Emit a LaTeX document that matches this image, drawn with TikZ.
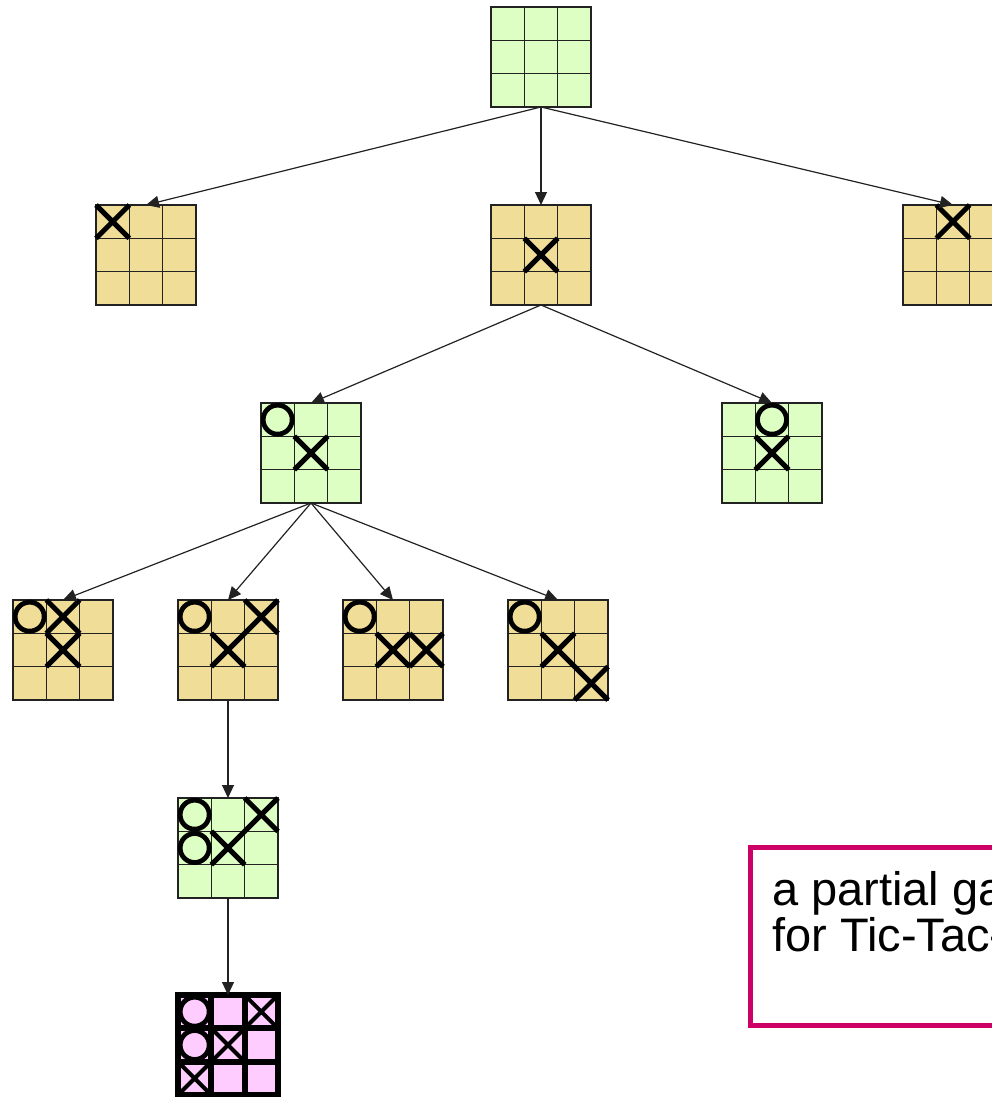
\documentclass[tikz,border=0pt]{standalone}
\usepackage{fontspec}
\setmainfont{Liberation Sans}
\usetikzlibrary{arrows.meta,calc}
\definecolor{boardgreen}{RGB}{222,255,196}
\definecolor{boardtan}{RGB}{240,222,152}
\definecolor{boardpink}{RGB}{255,204,255}
\definecolor{notemag}{RGB}{204,0,102}
\definecolor{gridgray}{RGB}{34,34,34}
\tikzset{
  board/.style={draw=gridgray, line width=1.5pt, minimum size=100pt, inner sep=0pt, outer sep=0pt, anchor=north west},
  gridline/.style={draw=gridgray, line width=1.5pt},
  xmk/.style={draw=black, line width=5pt},
  omk/.style={draw=black, line width=4.8pt},
  treeedge/.style={draw=gridgray, line width=1.2pt, -{Triangle[length=13pt,width=12pt]}},
  notebox/.style={draw=notemag, line width=5pt, minimum width=460pt, minimum height=178pt, inner sep=0pt, anchor=north west},
  notetext/.style={inner sep=0pt, anchor=north west, align=left, font=\fontsize{47pt}{46pt}\selectfont}
}
% name, x, y, fill, line width, line colour
\newcommand\ttboard[6]{%
  \node[board, fill=#4, line width=#5, draw=#6] (#1) at (#2,#3) {};
  \draw[gridline, line width=#5, draw=#6] (#2+33.333,#3) -- ++(0,100) (#2+66.667,#3) -- ++(0,100)
     (#2,#3+33.333) -- ++(100,0) (#2,#3+66.667) -- ++(100,0);
}
\newcommand\xm[3]{%
  \draw[xmk] ($(#1.north west)+(#2*33.333,#3*33.333)$) -- ++(33.333,33.333) ++(-33.333,0) -- ++(33.333,-33.333);
}
\newcommand\xmthin[3]{%
  \draw[xmk, line width=4pt] ($(#1.north west)+(#2*33.333,#3*33.333)$) -- ++(33.333,33.333) ++(-33.333,0) -- ++(33.333,-33.333);
}
\newcommand\om[3]{%
  \draw[omk] ($(#1.north west)+(#2*33.333+16.667,#3*33.333+16.667)$) circle[radius=14.5pt];
}
\begin{document}
\begin{tikzpicture}[x=1pt,y=-1pt]
\useasboundingbox (0,0) rectangle (991,1097);
% level 0
\ttboard{root}{491}{7}{boardgreen}{1.5pt}{gridgray}
% level 1
\ttboard{a}{96}{205}{boardtan}{1.5pt}{gridgray}
\ttboard{b}{491}{205}{boardtan}{1.5pt}{gridgray}
\ttboard{c}{903}{205}{boardtan}{1.5pt}{gridgray}
% level 2
\ttboard{d}{261}{403}{boardgreen}{1.5pt}{gridgray}
\ttboard{e}{722}{403}{boardgreen}{1.5pt}{gridgray}
% level 3
\ttboard{f}{13}{600}{boardtan}{1.5pt}{gridgray}
\ttboard{g}{178}{600}{boardtan}{1.5pt}{gridgray}
\ttboard{h}{343}{600}{boardtan}{1.5pt}{gridgray}
\ttboard{i}{508}{600}{boardtan}{1.5pt}{gridgray}
% level 4
\ttboard{j}{178}{798}{boardgreen}{1.5pt}{gridgray}
% level 5
\ttboard{k}{178}{995}{boardpink}{6pt}{black}
% marks
\xm{a}{0}{0}
\xm{b}{1}{1}
\xm{c}{1}{0}
\om{d}{0}{0} \xm{d}{1}{1}
\om{e}{1}{0} \xm{e}{1}{1}
\om{f}{0}{0} \xm{f}{1}{0} \xm{f}{1}{1}
\om{g}{0}{0} \xm{g}{2}{0} \xm{g}{1}{1}
\om{h}{0}{0} \xm{h}{1}{1} \xm{h}{2}{1}
\om{i}{0}{0} \xm{i}{1}{1} \xm{i}{2}{2}
\om{j}{0}{0} \xm{j}{2}{0} \om{j}{0}{1} \xm{j}{1}{1}
\om{k}{0}{0} \xmthin{k}{2}{0} \om{k}{0}{1} \xmthin{k}{1}{1} \xmthin{k}{0}{2}
% edges
\draw[treeedge] (root.south) -- (a.north);
\draw[treeedge] (root.south) -- (b.north);
\draw[treeedge] (root.south) -- (c.north);
\draw[treeedge] (b.south) -- (d.north);
\draw[treeedge] (b.south) -- (e.north);
\draw[treeedge] (d.south) -- (f.north);
\draw[treeedge] (d.south) -- (g.north);
\draw[treeedge] (d.south) -- (h.north);
\draw[treeedge] (d.south) -- (i.north);
\draw[treeedge] (g.south) -- (j.north);
\draw[treeedge] (j.south) -- (k.north);
% note
\node[notebox] (note) at (748,845) {};
\node[notetext] (notetext) at (772,871) {a partial game tree\\for Tic-Tac-Toe};
\end{tikzpicture}
\end{document}
